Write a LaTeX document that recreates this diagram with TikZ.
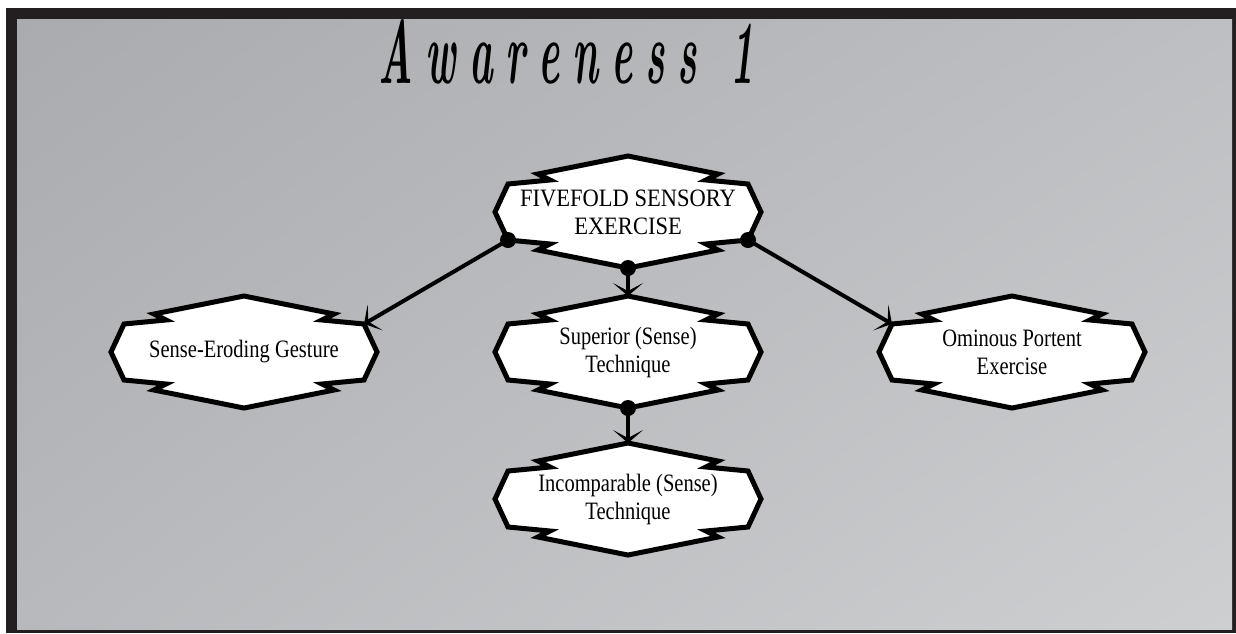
\documentclass[tikz,border=0pt]{standalone}
\usepackage{fontspec}
\usepackage{graphicx}
\usetikzlibrary{arrows.meta,shadings}
\newfontfamily\boxfont[FakeStretch=0.82]{Liberation Serif}
\newfontfamily\capfont[FakeStretch=0.9]{Liberation Serif}
\definecolor{framecol}{HTML}{231F20}
\definecolor{bgUL}{HTML}{A9ABAF}
\definecolor{bgUR}{HTML}{BDBFC2}
\definecolor{bgLL}{HTML}{B7B9BC}
\definecolor{bgLR}{HTML}{CDCFD1}
\makeatletter
\def\sbpt#1#2{\pgfpointadd{\centerpoint}{\pgfpoint{#1pt}{#2pt}}}
\pgfdeclareshape{scrollbox}{%
  \savedanchor\centerpoint{%
    \pgf@x=.5\wd\pgfnodeparttextbox
    \pgf@y=.5\ht\pgfnodeparttextbox
    \advance\pgf@y by -.5\dp\pgfnodeparttextbox}%
  \anchor{center}{\centerpoint}%
  \anchor{north}{\sbpt{0}{56}}%
  \anchor{south}{\sbpt{0}{-56}}%
  \anchor{east}{\sbpt{133}{0}}%
  \anchor{west}{\sbpt{-133}{0}}%
  \anchor{north east}{\sbpt{120}{28}}%
  \anchor{north west}{\sbpt{-120}{28}}%
  \anchor{south east}{\sbpt{120}{-28}}%
  \anchor{south west}{\sbpt{-120}{-28}}%
  \backgroundpath{%
    \pgfpathmoveto{\sbpt{0}{56}}%
    \pgfpathlineto{\sbpt{90}{38}}%
    \pgfpathlineto{\sbpt{78}{32}}%
    \pgfpathlineto{\sbpt{120}{28}}%
    \pgfpathlineto{\sbpt{133}{0}}%
    \pgfpathlineto{\sbpt{120}{-28}}%
    \pgfpathlineto{\sbpt{78}{-32}}%
    \pgfpathlineto{\sbpt{90}{-38}}%
    \pgfpathlineto{\sbpt{0}{-56}}%
    \pgfpathlineto{\sbpt{-90}{-38}}%
    \pgfpathlineto{\sbpt{-78}{-32}}%
    \pgfpathlineto{\sbpt{-120}{-28}}%
    \pgfpathlineto{\sbpt{-133}{0}}%
    \pgfpathlineto{\sbpt{-120}{28}}%
    \pgfpathlineto{\sbpt{-78}{32}}%
    \pgfpathlineto{\sbpt{-90}{38}}%
    \pgfpathclose
  }%
}
\makeatother
\def\tsp{\hspace{16pt}}
\tikzset{
  scroll/.style={shape=scrollbox, draw=black, fill=white, line width=5pt,
    line join=miter, align=center, inner sep=0pt,
    font=\boxfont\fontsize{25}{28}\selectfont},
  capscroll/.style={scroll, font=\capfont\fontsize{25}{28}\selectfont},
  conn/.style={line width=4pt, draw=black,
    -{Stealth[length=13pt,width=30pt,inset=8pt]}},
  dot/.style={fill=black},
}
\begin{document}
\begin{tikzpicture}[x=1pt,y=-1pt]
\useasboundingbox (0,0) rectangle (1236,633);
\fill[white] (0,0) rectangle (1236,633);
\fill[framecol] (6,8) rectangle (1236,633);
\shade[upper left=bgUL, upper right=bgUR, lower left=bgLL, lower right=bgLR]
  (17,19) rectangle (1232,629);

\node[anchor=base west, inner sep=0pt] (title) at (378,83)
  {\scalebox{0.8}[1.8]{\fontsize{50}{50}\selectfont\bfseries\itshape
   A\tsp w\tsp a\tsp r\tsp e\tsp n\tsp e\tsp s\tsp s\hspace{42pt}1}};

\node[capscroll] (five) at (628,212) {FIVEFOLD SENSORY\\EXERCISE};
\node[scroll] (sense) at (244,352) {Sense-Eroding Gesture};
\node[scroll] (sup) at (628,352) {Superior (Sense)\\Technique};
\node[scroll] (omin) at (1012,352) {Ominous Portent\\Exercise};
\node[scroll] (incomp) at (628,499) {Incomparable (Sense)\\Technique};

\draw[conn] (five.south west) -- (sense.north east);
\draw[conn] (five.south) -- (sup.north);
\draw[conn] (five.south east) -- (omin.north west);
\draw[conn] (sup.south) -- (incomp.north);

\fill[dot] (five.south west) circle[radius=8];
\fill[dot] (five.south) circle[radius=8];
\fill[dot] (five.south east) circle[radius=8];
\fill[dot] (sup.south) circle[radius=8];
\end{tikzpicture}
\end{document}
